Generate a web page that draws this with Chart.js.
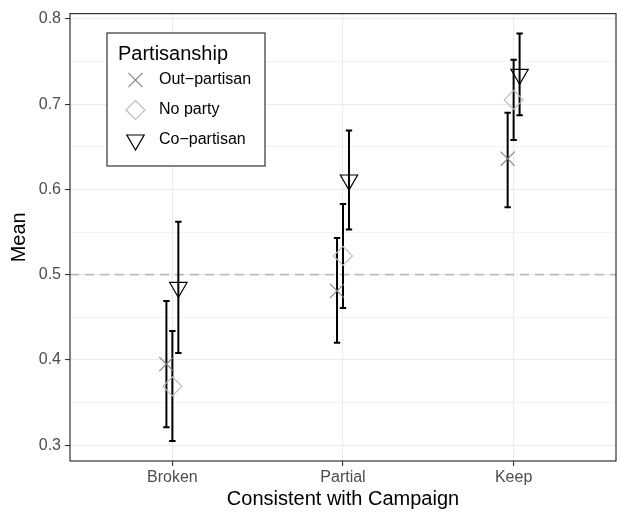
<!DOCTYPE html>
<html>
<head>
<meta charset="utf-8">
<script src="https://cdn.jsdelivr.net/npm/chart.js@4/dist/chart.umd.min.js"></script>
<style>
  html, body { margin: 0; padding: 0; background: #fff; }
  #wrap { width: 618px; height: 512px; }
</style>
</head>
<body>
<div id="wrap"><canvas id="c" width="618" height="512"></canvas></div>
<script>
// Categories on the x axis and the three partisanship groups
const categories = ['Broken', 'Partial', 'Keep'];
const groups = ['Out\u2212partisan', 'No party', 'Co\u2212partisan'];

// Group means and 95% interval bounds, one value per category
const outMean = [0.395, 0.481, 0.636];
const outLow  = [0.321, 0.420, 0.579];
const outHigh = [0.469, 0.543, 0.690];

const noMean  = [0.369, 0.522, 0.705];
const noLow   = [0.305, 0.461, 0.658];
const noHigh  = [0.434, 0.583, 0.752];

const coMean  = [0.485, 0.611, 0.735];
const coLow   = [0.408, 0.553, 0.687];
const coHigh  = [0.562, 0.669, 0.783];

// Axis ticks and the reference line
const yMajorTicks = [0.3, 0.4, 0.5, 0.6, 0.7, 0.8];
const yMinorTicks = [0.35, 0.45, 0.55, 0.65, 0.75];
const refValue = 0.5;

// Horizontal dodge of the three groups around each category
const dodge = [-0.035, 0, 0.035];

const FONT = '"Liberation Sans", Arial, Helvetica, sans-serif';

const styles = [
  { pointStyle: 'crossRot', radius: 10, color: '#7F7F7F', width: 1.1, rotation: 0 },
  { pointStyle: 'rectRot', radius: 9.5, color: '#BEBEBE', width: 1.2, rotation: 0 },
  { pointStyle: 'triangle', radius: 10, color: '#000000', width: 1.2, rotation: 180 }
];

const means = [outMean, noMean, coMean];
const lows = [outLow, noLow, coLow];
const highs = [outHigh, noHigh, coHigh];

const datasets = groups.map((g, k) => ({
  label: g,
  data: categories.map((c, i) => ({ x: i + 1 + dodge[k], y: means[k][i] })),
  errLow: lows[k],
  errHigh: highs[k],
  pointStyle: styles[k].pointStyle,
  pointRadius: styles[k].radius,
  pointRotation: styles[k].rotation,
  pointBorderColor: styles[k].color,
  pointBackgroundColor: 'rgba(0,0,0,0)',
  pointBorderWidth: styles[k].width,
  showLine: false
}));

const isMajor = v => yMajorTicks.some(t => Math.abs(t - v) < 1e-9);

// Dashed reference line at 0.5, drawn under the error bars
const refLinePlugin = {
  id: 'refLine',
  beforeDatasetsDraw(chart) {
    const { ctx, chartArea, scales } = chart;
    const y = scales.y.getPixelForValue(refValue);
    ctx.save();
    ctx.strokeStyle = '#BBBBBB';
    ctx.lineWidth = 1.6;
    ctx.setLineDash([9, 6]);
    ctx.beginPath();
    ctx.moveTo(chartArea.left, y);
    ctx.lineTo(chartArea.right, y);
    ctx.stroke();
    ctx.restore();
  }
};

// Vertical interval bars with end caps
const errorBarPlugin = {
  id: 'errorBars',
  beforeDatasetsDraw(chart) {
    const { ctx, scales } = chart;
    ctx.save();
    ctx.strokeStyle = '#000';
    ctx.lineWidth = 2;
    chart.data.datasets.forEach(ds => {
      ds.data.forEach((p, i) => {
        const x = scales.x.getPixelForValue(p.x);
        const y1 = scales.y.getPixelForValue(ds.errLow[i]);
        const y2 = scales.y.getPixelForValue(ds.errHigh[i]);
        ctx.beginPath();
        ctx.moveTo(x, y1); ctx.lineTo(x, y2);
        ctx.moveTo(x - 3.2, y1); ctx.lineTo(x + 3.2, y1);
        ctx.moveTo(x - 3.2, y2); ctx.lineTo(x + 3.2, y2);
        ctx.stroke();
      });
    });
    ctx.restore();
  }
};

// Panel border around the plotting area
const borderPlugin = {
  id: 'panelBorder',
  afterDatasetsDraw(chart) {
    const { ctx, chartArea } = chart;
    ctx.save();
    ctx.strokeStyle = '#333333';
    ctx.lineWidth = 1.2;
    ctx.strokeRect(chartArea.left, chartArea.top,
      chartArea.right - chartArea.left, chartArea.bottom - chartArea.top);
    ctx.restore();
  }
};

// Boxed legend inside the panel, top left
const legendPlugin = {
  id: 'insideLegend',
  afterDraw(chart) {
    const { ctx } = chart;
    const box = { x: 107, y: 33, w: 158, h: 133 };
    ctx.save();
    ctx.fillStyle = '#fff';
    ctx.fillRect(box.x, box.y, box.w, box.h);
    ctx.strokeStyle = '#333';
    ctx.lineWidth = 1.2;
    ctx.strokeRect(box.x, box.y, box.w, box.h);
    ctx.fillStyle = '#000';
    ctx.textBaseline = 'middle';
    ctx.textAlign = 'left';
    ctx.font = '20px ' + FONT;
    ctx.fillText('Partisanship', 118, 54);
    const rows = [80, 110, 140];
    ctx.font = '16px ' + FONT;
    chart.data.datasets.forEach((ds, k) => {
      const s = styles[k];
      ctx.strokeStyle = s.color;
      ctx.fillStyle = 'rgba(0,0,0,0)';
      ctx.lineWidth = s.width;
      Chart.helpers.drawPoint(ctx, {
        pointStyle: s.pointStyle, radius: s.radius, rotation: s.rotation, borderWidth: s.width
      }, 135.5, rows[k]);
      ctx.fillStyle = '#000';
      ctx.fillText(ds.label, 159, rows[k]);
    });
    ctx.restore();
  }
};

new Chart(document.getElementById('c'), {
  type: 'scatter',
  data: { datasets },
  plugins: [refLinePlugin, errorBarPlugin, borderPlugin, legendPlugin],
  options: {
    responsive: false,
    animation: false,
    events: [],
    layout: { autoPadding: false, padding: { top: 10, right: 2, left: 0, bottom: 0 } },
    plugins: { legend: { display: false }, tooltip: { enabled: false } },
    scales: {
      x: {
        type: 'linear',
        min: 0.4,
        max: 3.6,
        afterBuildTicks: s => { s.ticks = categories.map((c, i) => ({ value: i + 1 })); },
        afterFit: s => { s.height = 51; },
        border: { display: false },
        grid: { color: '#EBEBEB', lineWidth: 1.1, tickColor: '#333', tickLength: 5, tickWidth: 1.1 },
        ticks: {
          autoSkip: false, maxRotation: 0, padding: 2,
          color: '#4D4D4D', font: { family: FONT, size: 16 },
          callback: (v, i) => categories[i]
        },
        title: {
          display: true, text: 'Consistent with Campaign', color: '#000',
          font: { family: FONT, size: 20 }, padding: { top: 0, bottom: 1 }
        }
      },
      y: {
        min: 0.2814,
        max: 0.8062,
        afterBuildTicks: s => {
          s.ticks = yMajorTicks.concat(yMinorTicks).sort((a, b) => a - b).map(v => ({ value: v }));
        },
        afterFit: s => { s.width = 70; },
        border: { display: false },
        grid: {
          color: '#EBEBEB',
          lineWidth: c => (c.tick && isMajor(c.tick.value)) ? 1.1 : 0.6,
          tickColor: c => (c.tick && isMajor(c.tick.value)) ? '#333' : 'rgba(0,0,0,0)',
          tickLength: 5,
          tickWidth: 1.1
        },
        ticks: {
          autoSkip: false, padding: 4,
          color: '#4D4D4D', font: { family: FONT, size: 16 },
          callback: v => isMajor(v) ? v.toFixed(1) : ''
        },
        title: {
          display: true, text: 'Mean', color: '#000',
          font: { family: FONT, size: 20 }, padding: { top: 7, bottom: 0 }
        }
      }
    }
  }
});
</script>
</body>
</html>
